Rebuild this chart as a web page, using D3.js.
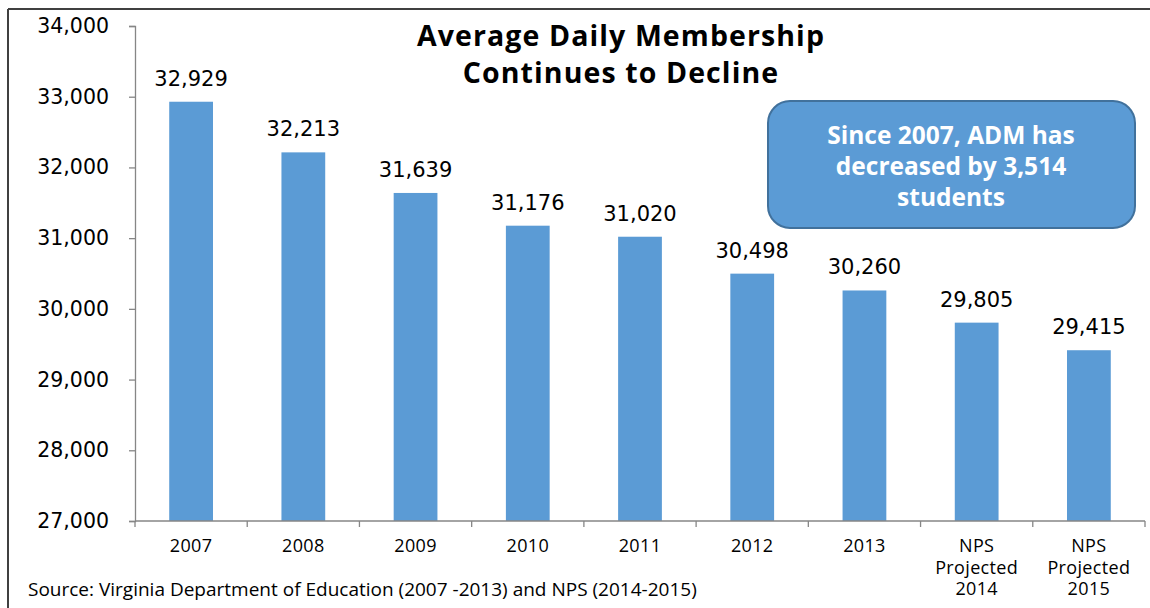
<!DOCTYPE html>
<html>
<head>
<meta charset="utf-8">
<script src="https://cdn.jsdelivr.net/npm/d3@7"></script>
<style>
  html, body { margin: 0; padding: 0; background: #fff; }
  svg { display: block; }
</style>
</head>
<body>
<svg id="chart" width="1150" height="608"></svg>
<script>
const categories = ["2007", "2008", "2009", "2010", "2011", "2012", "2013", "NPS Projected 2014", "NPS Projected 2015"];
const categoryLines = [["2007"], ["2008"], ["2009"], ["2010"], ["2011"], ["2012"], ["2013"], ["NPS", "Projected", "2014"], ["NPS", "Projected", "2015"]];
const admValues = [32929, 32213, 31639, 31176, 31020, 30498, 30260, 29805, 29415];
const yTicks = [27000, 28000, 29000, 30000, 31000, 32000, 33000, 34000];
const titleLines = ["Average Daily Membership", "Continues to Decline"];
const calloutLines = ["Since 2007, ADM has", "decreased by 3,514", "students"];
const sourceText = "Source: Virginia Department of Education (2007 -2013) and NPS (2014-2015)";

const svg = d3.select("#chart");
const barColor = "#5B9BD5";
const axisColor = "#868686";
const labelFont = "'DejaVu Sans', Verdana, sans-serif";
const textFont = "'Open Sans', 'Liberation Sans', sans-serif";

// frame (top and left border lines)
svg.append("line").attr("x1", 8).attr("x2", 1150).attr("y1", 9).attr("y2", 9)
  .attr("stroke", "#404040").attr("stroke-width", 2);
svg.append("line").attr("x1", 8).attr("x2", 8).attr("y1", 9).attr("y2", 608)
  .attr("stroke", "#404040").attr("stroke-width", 2);

const plotLeft = 135, plotRight = 1145, plotTop = 26, plotBottom = 521;

const x = d3.scaleBand().domain(categories).range([plotLeft, plotRight]).paddingInner(0.61).paddingOuter(0.305);
const y = d3.scaleLinear().domain([27000, 34000]).range([plotBottom, plotTop]);

// bars
svg.append("g").selectAll("rect").data(admValues).join("rect")
  .attr("x", (d, i) => x(categories[i]))
  .attr("y", d => y(d))
  .attr("width", x.bandwidth())
  .attr("height", d => y(27000) - y(d))
  .attr("fill", barColor);

// y axis
const yAxis = svg.append("g").attr("transform", `translate(${plotLeft},0)`)
  .call(d3.axisLeft(y).tickValues(yTicks).tickFormat(d3.format(",")).tickSize(6).tickPadding(20));
yAxis.select(".domain").attr("stroke", axisColor).attr("stroke-width", 1.3);
yAxis.selectAll(".tick line").attr("stroke", axisColor).attr("stroke-width", 1.3);
yAxis.selectAll(".tick text").attr("font-family", labelFont).attr("font-size", 20.5).attr("fill", "#000");

// x axis (ticks at band boundaries)
const xAxisG = svg.append("g").attr("transform", `translate(0,${plotBottom})`);
xAxisG.append("line").attr("x1", plotLeft).attr("x2", plotRight).attr("y1", 0).attr("y2", 0)
  .attr("stroke", axisColor).attr("stroke-width", 1.3);
const boundaries = d3.range(categories.length + 1).map(i => plotLeft + i * (plotRight - plotLeft) / categories.length);
xAxisG.selectAll("line.tk").data(boundaries).join("line").attr("class", "tk")
  .attr("x1", d => d).attr("x2", d => d).attr("y1", 0).attr("y2", 6)
  .attr("stroke", axisColor).attr("stroke-width", 1.3);

// x labels (one text per line)
const xlData = [];
categories.forEach((c, i) => categoryLines[i].forEach((ln, j) => xlData.push({ c, ln, j })));
svg.append("g").selectAll("text").data(xlData).join("text")
  .attr("x", d => x(d.c) + x.bandwidth() / 2)
  .attr("y", d => 552 + d.j * 21.7)
  .attr("text-anchor", "middle")
  .attr("font-family", textFont)
  .attr("font-size", 18)
  .attr("letter-spacing", 0.35)
  .attr("fill", "#000")
  .text(d => d.ln);

// data labels
svg.append("g").selectAll("text").data(admValues).join("text")
  .attr("x", (d, i) => x(categories[i]) + x.bandwidth() / 2)
  .attr("y", d => y(d) - 16)
  .attr("text-anchor", "middle")
  .attr("font-family", labelFont)
  .attr("font-size", 21)
  .attr("fill", "#000")
  .text(d => d3.format(",")(d));

// title
svg.append("g").selectAll("text").data(titleLines).join("text")
  .attr("x", 621)
  .attr("y", (d, i) => 46 + i * 37)
  .attr("text-anchor", "middle")
  .attr("font-family", textFont)
  .attr("font-weight", "bold")
  .attr("font-size", 28.5)
  .attr("letter-spacing", 1.1)
  .attr("fill", "#000")
  .text(d => d);

// callout
svg.append("rect").attr("x", 768).attr("y", 101).attr("width", 367).attr("height", 127)
  .attr("rx", 22).attr("ry", 22)
  .attr("fill", barColor).attr("stroke", "#41719C").attr("stroke-width", 2);
svg.append("g").selectAll("text").data(calloutLines).join("text")
  .attr("x", 951)
  .attr("y", (d, i) => 144 + i * 31)
  .attr("text-anchor", "middle")
  .attr("font-family", textFont)
  .attr("font-weight", "bold")
  .attr("font-size", 24.5)
  .attr("fill", "#fff")
  .text(d => d);

// source
svg.append("text").attr("x", 28).attr("y", 596)
  .attr("font-family", textFont).attr("font-size", 19).attr("fill", "#000")
  .text(sourceText);
</script>
</body>
</html>
